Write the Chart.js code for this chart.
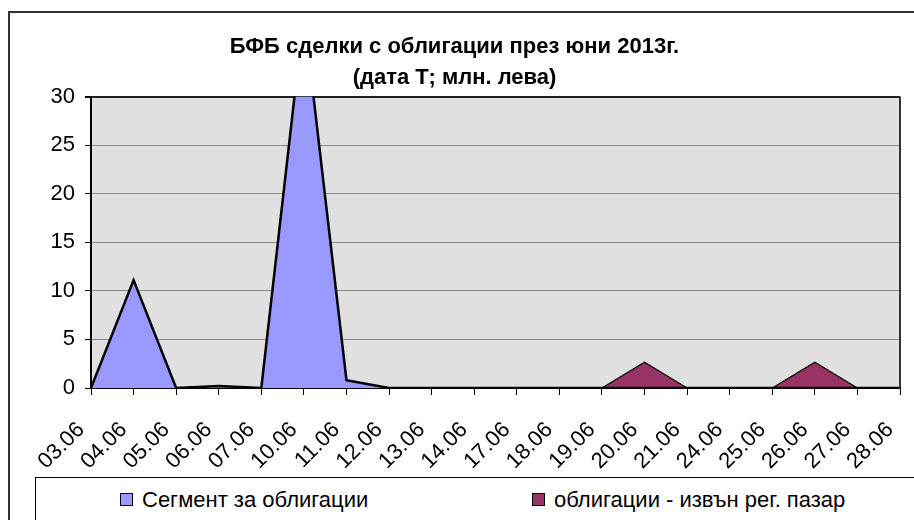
<!DOCTYPE html>
<html>
<head>
<meta charset="utf-8">
<script src="https://cdn.jsdelivr.net/npm/chart.js@4"></script>
<style>
    body { margin: 0; background: #fff; font-family: 'Liberation Sans', Arial, sans-serif; }
    #wrap { position: relative; width: 914px; height: 520px; overflow: hidden; }
    #frame { position: absolute; left: 8px; top: 11px; width: 940px; height: 540px; border: 2px solid #333; box-sizing: border-box; }
    #chart { position: absolute; left: 0; top: 0; }
    #legend { position: absolute; left: 35px; top: 477px; width: 920px; height: 60px; border: 1px solid #000; background: #fff; }
    .item { position: absolute; top: 9px; font-size: 22px; color: #000; white-space: nowrap; }
    .swatch { display: inline-block; width: 11px; height: 11px; border: 1px solid #000; margin-right: 9px; vertical-align: 1px; }
</style>
</head>
<body>
<div id="wrap">
    <div id="frame"></div>
    <canvas id="chart" width="914" height="520"></canvas>
    <div id="legend">
        <div class="item" style="left:84px;"><span class="swatch" style="background:#9999ff"></span>Сегмент за облигации</div>
        <div class="item" style="left:496px;"><span class="swatch" style="background:#993366"></span>облигации - извън рег. пазар</div>
    </div>
</div>
<script>
const dates = ['03.06', '04.06', '05.06', '06.06', '07.06', '10.06', '11.06', '12.06', '13.06', '14.06',
    '17.06', '18.06', '19.06', '20.06', '21.06', '24.06', '25.06', '26.06', '27.06', '28.06'];
const segment = [0, 11.1, 0, 0.2, 0, 38.5, 0.8, 0, 0, 0, 0, 0, 0, 0, 0, 0, 0, 0, 0, 0];
const otc = [0, 0, 0, 0, 0, 0, 0, 0, 0, 0, 0, 0, 0, 2.65, 0, 0, 0, 2.65, 0, 0];
const yTicks = [0, 5, 10, 15, 20, 25, 30];

// grey plot area + right frame line
const plotBg = {
    id: 'plotBg',
    beforeDraw(chart) {
        const a = chart.chartArea, ctx = chart.ctx;
        ctx.save();
        ctx.fillStyle = '#e0e0e0';
        ctx.fillRect(a.left, a.top, a.right - a.left, a.bottom - a.top);
        ctx.restore();
    },
    afterDraw(chart) {
        const ctx = chart.ctx, a = chart.chartArea;
        ctx.save();
        ctx.strokeStyle = '#333';
        ctx.lineWidth = 2;
        ctx.beginPath();
        ctx.moveTo(a.right, a.top);
        ctx.lineTo(a.right, a.bottom);
        ctx.stroke();
        ctx.restore();
    }
};

const font = { family: "'Liberation Sans', Arial, sans-serif", size: 22 };

new Chart(document.getElementById('chart').getContext('2d'), {
    type: 'line',
    data: {
        labels: dates,
        datasets: [
            { label: 'Сегмент за облигации', data: segment, backgroundColor: '#9999ff', borderColor: '#000',
              borderWidth: 2.5, fill: 'origin', pointRadius: 0, tension: 0 },
            { label: 'облигации - извън рег. пазар', data: otc, backgroundColor: '#993366', borderColor: '#000',
              borderWidth: 1.2, fill: 'origin', pointRadius: 0, tension: 0 }
        ]
    },
    options: {
        responsive: false,
        animation: false,
        layout: { padding: { left: 9, top: 12, right: 14, bottom: 0 } },
        plugins: {
            legend: { display: false },
            tooltip: { enabled: false },
            title: {
                display: true,
                text: ['БФБ сделки с облигации през юни 2013г.', '(дата Т; млн. лева)'],
                color: '#000',
                font: { family: font.family, size: 22, weight: 'bold', lineHeight: 1.41 },
                padding: { top: 19.5, bottom: 3 }
            }
        },
        scales: {
            x: {
                offset: false,
                afterFit: s => { s.height = 132; s.paddingRight = 0; s.paddingLeft = 0; },
                grid: { drawOnChartArea: false, drawTicks: true, tickLength: 7, color: '#000', lineWidth: 1 },
                border: { color: '#000', width: 2 },
                ticks: { color: '#000', font: font, minRotation: 45, maxRotation: 45, padding: 22, labelOffset: -10, autoSkip: false }
            },
            y: {
                min: 0,
                max: 30,
                afterFit: s => { s.width = 82; },
                afterBuildTicks: s => { s.ticks = yTicks.map(v => ({ value: v })); },
                grid: {
                    color: ctx => (ctx.tick && ctx.tick.value === 30 ? '#222' : '#8a8a8a'),
                    lineWidth: ctx => (ctx.tick && ctx.tick.value === 30 ? 2 : 1),
                    tickLength: 6,
                    tickColor: '#000'
                },
                border: { color: '#000', width: 2 },
                ticks: { color: '#000', font: font, padding: 10 }
            }
        }
    },
    plugins: [plotBg]
});
</script>
</body>
</html>
